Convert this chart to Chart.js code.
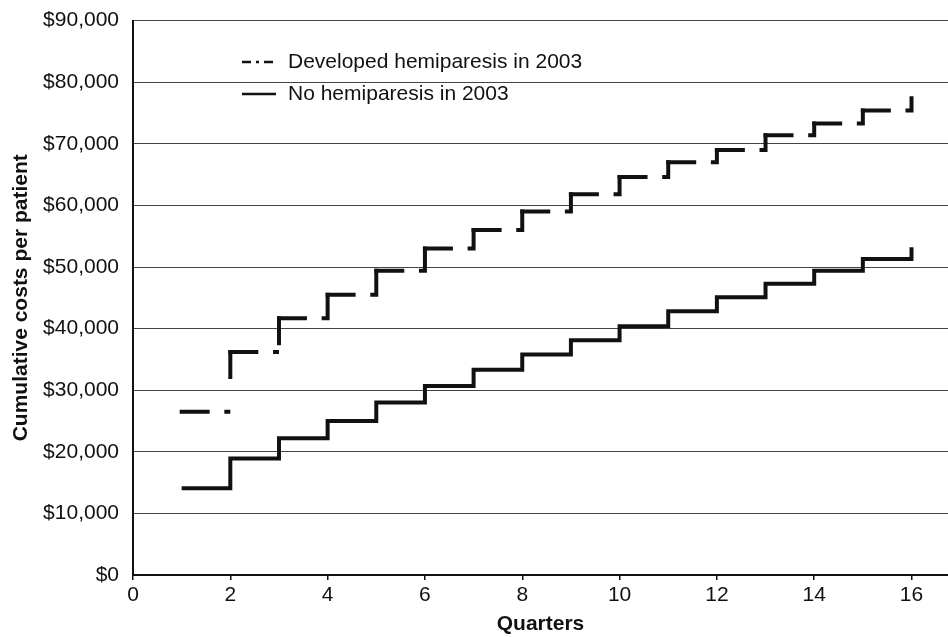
<!DOCTYPE html>
<html>
<head>
<meta charset="utf-8">
<script src="https://cdn.jsdelivr.net/npm/chart.js@4.4.1/dist/chart.umd.min.js"></script>
<style>
  body { margin: 0; background: #fff; }
</style>
</head>
<body>
<canvas id="costChart" width="948" height="637"></canvas>
<script>
// values
const quarters = [1, 2, 3, 4, 5, 6, 7, 8, 9, 10, 11, 12, 13, 14, 15, 16];
const developedCosts = [26500, 36200, 41700, 45500, 49400, 53000, 56000, 59000, 61800, 64600, 67000, 69000, 71400, 73300, 75400, 77400];
const noHemiCosts = [14100, 18900, 22200, 25000, 28000, 30700, 33300, 35800, 38100, 40400, 42800, 45100, 47300, 49400, 51300, 53200];
const seriesLabels = ["Developed hemiparesis in 2003", "No hemiparesis in 2003"];
const xTicks = [0, 2, 4, 6, 8, 10, 12, 14, 16];
const yTicks = [0, 10000, 20000, 30000, 40000, 50000, 60000, 70000, 80000, 90000];

const FONT = "Arial, 'Liberation Sans', sans-serif";
const INK = "#111";

// dash-dot per step: dash at the start of each riser/tread, dot near the corner
function stepDash(ctx) {
    const h = Math.abs(ctx.p1.x - ctx.p0.x);
    const v = Math.abs(ctx.p1.y - ctx.p0.y);
    if (v > 30) return [26, h - 30, 2, v - 23, 100];
    return [26, h - 30, 100];
}

const legendLines = {
    id: "legendLines",
    afterDatasetsDraw(chart) {
        const c = chart.ctx;
        const rows = [
            { y: 62, dash: [9, 5, 3, 5], width: 2.5 },
            { y: 94, dash: [], width: 2.5 }
        ];
        c.save();
        rows.forEach((r, i) => {
            c.strokeStyle = INK;
            c.lineWidth = r.width;
            c.setLineDash(r.dash);
            c.beginPath();
            c.moveTo(242, r.y);
            c.lineTo(276, r.y);
            c.stroke();
            c.setLineDash([]);
            c.fillStyle = INK;
            c.font = "21px " + FONT;
            c.textBaseline = "middle";
            c.fillText(chart.data.datasets[i].label, 288, r.y);
        });
        c.restore();
    }
};

new Chart(document.getElementById("costChart"), {
    type: "line",
    data: {
        datasets: [
            {
                label: seriesLabels[0],
                data: quarters.map((q, i) => ({ x: q, y: developedCosts[i] })),
                borderColor: INK,
                borderWidth: 4,
                borderCapStyle: "square",
                stepped: true,
                pointRadius: 0,
                segment: {
                    borderDash: stepDash,
                    borderDashOffset: ctx => ctx.p0DataIndex * 0.001
                }
            },
            {
                label: seriesLabels[1],
                data: quarters.map((q, i) => ({ x: q, y: noHemiCosts[i] })),
                borderColor: INK,
                borderWidth: 4,
                stepped: true,
                pointRadius: 0
            }
        ]
    },
    options: {
        responsive: false,
        animation: false,
        devicePixelRatio: 1,
        layout: { padding: { top: 18, right: 0, left: 0, bottom: 0 } },
        plugins: { legend: { display: false }, tooltip: { enabled: false } },
        scales: {
            x: {
                type: "linear",
                min: 0,
                max: 16.75,
                afterBuildTicks: s => { s.ticks = xTicks.map(v => ({ value: v })); },
                afterFit: s => { s.height = 62; },
                grid: { drawOnChartArea: false, tickLength: 5, color: INK, lineWidth: 1.5 },
                border: { color: INK, width: 2 },
                ticks: { color: INK, font: { family: FONT, size: 21 }, padding: 3, maxRotation: 0 },
                title: {
                    display: true,
                    text: "Quarters",
                    color: INK,
                    font: { family: FONT, size: 21, weight: "bold" },
                    padding: { top: 0, bottom: 0 }
                }
            },
            y: {
                min: 0,
                max: 90000,
                afterBuildTicks: s => { s.ticks = yTicks.map(v => ({ value: v })); },
                afterFit: s => { s.width = 133; },
                grid: { color: "#444", lineWidth: 1, tickLength: 6, tickColor: "rgba(0,0,0,0)" },
                border: { color: INK, width: 2 },
                ticks: {
                    color: INK,
                    font: { family: FONT, size: 21 },
                    padding: 8,
                    callback: v => "$" + v.toLocaleString("en-US")
                },
                title: {
                    display: true,
                    text: "Cumulative costs per patient",
                    color: INK,
                    font: { family: FONT, size: 21, weight: "bold" },
                    padding: { top: 9, bottom: 0 }
                }
            }
        }
    },
    plugins: [legendLines]
});
</script>
</body>
</html>
